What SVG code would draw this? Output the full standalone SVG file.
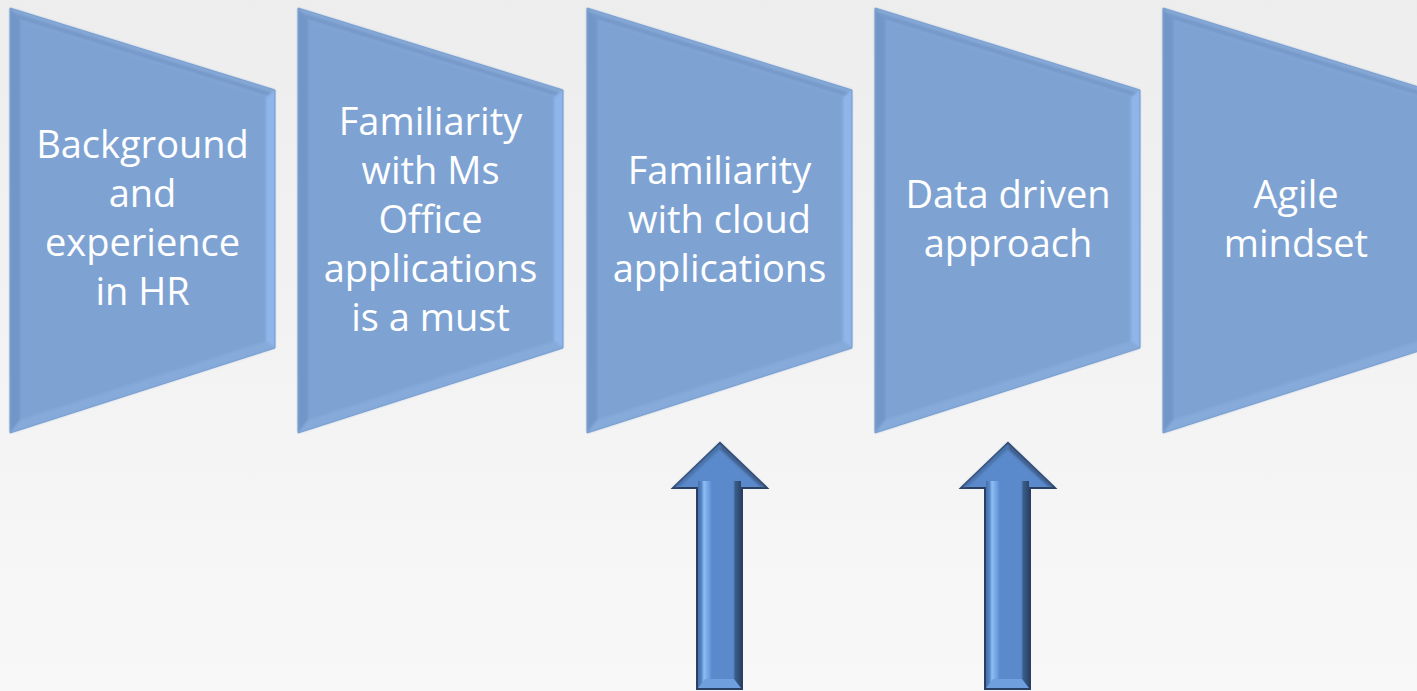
<svg xmlns="http://www.w3.org/2000/svg" width="1417" height="691" viewBox="0 0 1417 691">
  <defs>
    <linearGradient id="bg" x1="0" y1="0" x2="0" y2="1">
      <stop offset="0" stop-color="#ededed"/>
      <stop offset="1" stop-color="#f8f8f8"/>
    </linearGradient>
    <filter id="soft" x="-5%" y="-5%" width="110%" height="110%">
      <feGaussianBlur stdDeviation="1.2"/>
    </filter>
    <g id="trap">
      <polygon points="0,8 265,90 265,348 0,433" fill="#7ea3d3"/>
      <g filter="url(#soft)">
        <polygon points="0,8 265,90 256,97 10,21" fill="#86a9d6"/>
        <polygon points="2,12 263,93 258,96 8,19" fill="#6f93c5" opacity="0.7"/>
        <polygon points="0,8 10,21 10,420 0,433" fill="#7296c8"/>
        <polygon points="265,90 265,348 256,341 256,97" fill="#8fb5ea"/>
        <polygon points="0,433 10,420 256,341 265,348" fill="#86aad9"/>
      </g>
      <polygon points="0,8 265,90 265,348 0,433" fill="none" stroke="#7a9fd0" stroke-width="1"/>
    </g>
    <linearGradient id="shaft" x1="0" y1="0" x2="1" y2="0">
      <stop offset="0" stop-color="#4670a8"/>
      <stop offset="0.08" stop-color="#5585c4"/>
      <stop offset="0.14" stop-color="#8dbef6"/>
      <stop offset="0.26" stop-color="#6e9edc"/>
      <stop offset="0.32" stop-color="#5a8acb"/>
      <stop offset="0.82" stop-color="#5a8acb"/>
      <stop offset="0.86" stop-color="#3c5f8e"/>
      <stop offset="1" stop-color="#2c4467"/>
    </linearGradient>
    <g id="arrow">
      <polygon points="0,0 47,45 22,45 22,246 -23,246 -23,45 -47,45" fill="#5a8acb" stroke="#2a4063" stroke-width="2" stroke-linejoin="miter"/>
      <polygon points="0,0 47,45 40,43 0,6" fill="#3f5f8c" filter="url(#soft)"/>
      <polygon points="0,0 -47,45 -40,43 0,6" fill="#4a72a8" filter="url(#soft)"/>
      <rect x="-22" y="38" width="43" height="207" fill="url(#shaft)"/>
      <polygon points="-15,236 14,236 21,245 -22,245" fill="#6f9fdd"/>
    </g>
  </defs>
  <style>
    .lbl { font-family: "Open Sans", "Noto Sans", "DejaVu Sans", sans-serif; font-size: 38px; fill: #ffffff; text-anchor: middle; }
  </style>
  <rect x="0" y="0" width="1417" height="691" fill="url(#bg)"/>

  <g id="node1" transform="translate(10,0)">
    <use href="#trap"/>
    <text class="lbl" x="132.5" y="158">Background</text>
    <text class="lbl" x="132.5" y="207">and</text>
    <text class="lbl" x="132.5" y="256">experience</text>
    <text class="lbl" x="132.5" y="305">in HR</text>
  </g>
  <g id="node2" transform="translate(298,0)">
    <use href="#trap"/>
    <text class="lbl" x="132.5" y="135">Familiarity</text>
    <text class="lbl" x="132.5" y="184">with Ms</text>
    <text class="lbl" x="132.5" y="233">Office</text>
    <text class="lbl" x="132.5" y="282">applications</text>
    <text class="lbl" x="132.5" y="331">is a must</text>
  </g>
  <g id="node3" transform="translate(587,0)">
    <use href="#trap"/>
    <text class="lbl" x="132.5" y="184">Familiarity</text>
    <text class="lbl" x="132.5" y="233">with cloud</text>
    <text class="lbl" x="132.5" y="282">applications</text>
  </g>
  <g id="node4" transform="translate(875,0)">
    <use href="#trap"/>
    <text class="lbl" x="133" y="208">Data driven</text>
    <text class="lbl" x="133" y="257">approach</text>
  </g>
  <g id="node5" transform="translate(1163,0)">
    <use href="#trap"/>
    <text class="lbl" x="133" y="208">Agile</text>
    <text class="lbl" x="133" y="257">mindset</text>
  </g>

  <g id="connectors">
    <use href="#arrow" transform="translate(720,443)"/>
    <use href="#arrow" transform="translate(1008,443)"/>
  </g>
</svg>
